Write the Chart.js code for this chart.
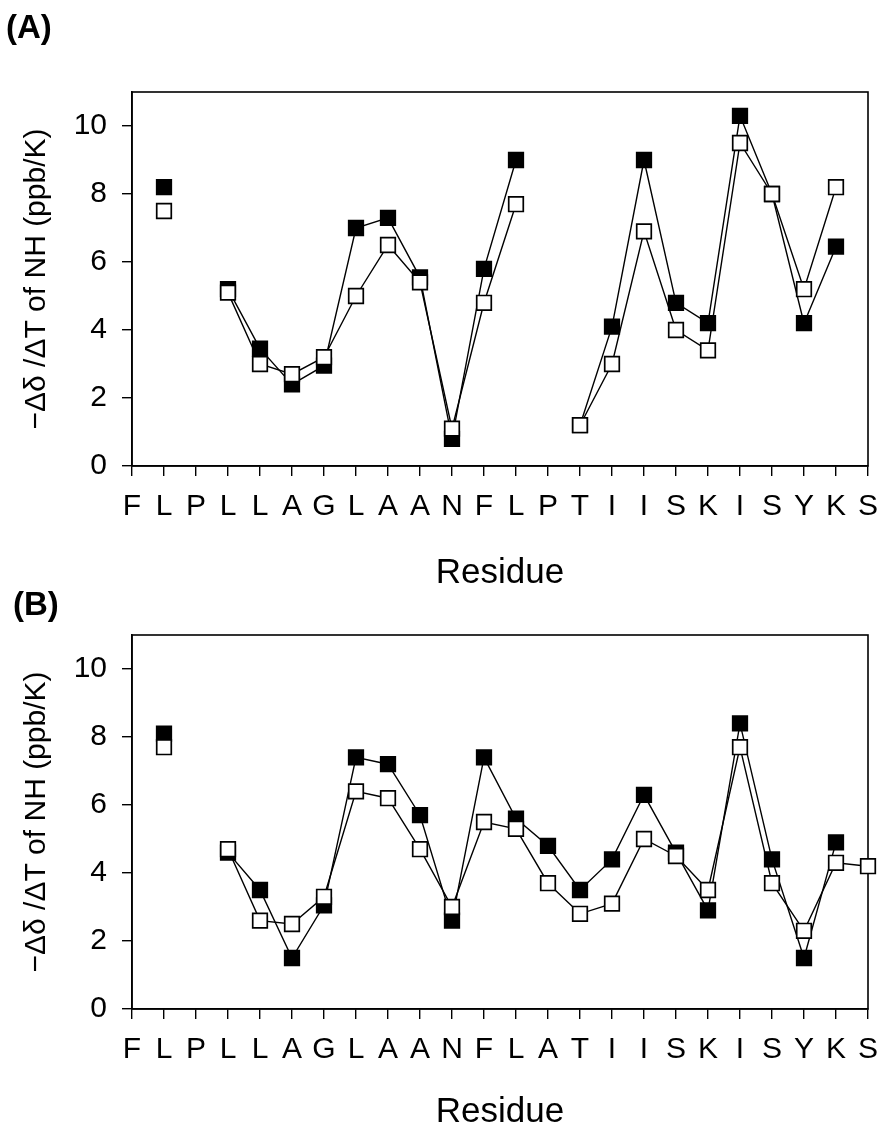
<!DOCTYPE html>
<html>
<head>
<meta charset="utf-8">
<script src="https://cdn.jsdelivr.net/npm/chart.js@4.4.1/dist/chart.umd.min.js"></script>
<style>
  body { margin: 0; background: #fff; }
  #wrap { position: relative; width: 881px; height: 1132px; overflow: hidden; }
  .panel { position: absolute; left: 0; width: 881px; height: 600px; }
  .tag { position: absolute; font: bold 33px Arial, "Liberation Sans", sans-serif; color: #000; }
</style>
</head>
<body>
<div id="wrap">
  <div class="panel" style="top:0"><canvas id="chartA"></canvas></div>
  <div class="panel" style="top:543px"><canvas id="chartB"></canvas></div>
  <div class="tag" style="top:8px; left:6px">(A)</div>
  <div class="tag" style="top:585px; left:13px">(B)</div>
</div>
<script>
// residues along the x axis
const residuesA = ["F","L","P","L","L","A","G","L","A","A","N","F","L","P","T","I","I","S","K","I","S","Y","K","S"];
const residuesB = ["F","L","P","L","L","A","G","L","A","A","N","F","L","A","T","I","I","S","K","I","S","Y","K","S"];

// filled squares / open squares, null = no value
const filledA = [null, 8.2, null, 5.2, 3.45, 2.4, 2.95, 7.0, 7.3, 5.55, 0.8, 5.8, 9.0, null, 1.2, 4.1, 9.0, 4.8, 4.2, 10.3, 8.0, 4.2, 6.45, null];
const openA   = [null, 7.5, null, 5.1, 3.0, 2.7, 3.2, 5.0, 6.5, 5.4, 1.1, 4.8, 7.7, null, 1.2, 3.0, 6.9, 4.0, 3.4, 9.5, 8.0, 5.2, 8.2, null];
const filledB = [null, 8.1, null, 4.6, 3.5, 1.5, 3.05, 7.4, 7.2, 5.7, 2.6, 7.4, 5.6, 4.8, 3.5, 4.4, 6.3, 4.6, 2.9, 8.4, 4.4, 1.5, 4.9, null];
const openB   = [null, 7.7, null, 4.7, 2.6, 2.5, 3.3, 6.4, 6.2, 4.7, 3.0, 5.5, 5.3, 3.7, 2.8, 3.1, 5.0, 4.5, 3.5, 7.7, 3.7, 2.3, 4.3, 4.2];

const yTicks = [0, 2, 4, 6, 8, 10];
const yMax = 11;

const FONT = 'Arial, "Liberation Sans", sans-serif';

// box around the plot area
const frame = {
    id: "frame",
    beforeDatasetsDraw(chart) {
        const a = chart.chartArea;
        const ctx = chart.ctx;
        ctx.save();
        ctx.strokeStyle = "#000";
        ctx.lineWidth = 1.6;
        ctx.strokeRect(a.left, a.top, a.right - a.left, a.bottom - a.top);
        ctx.restore();
    }
};

function series(data, fill) {
    return {
        data: data,
        borderColor: "#000",
        borderWidth: 1.4,
        pointStyle: "rect",
        pointRadius: 10.3,
        pointHoverRadius: 10.3,
        pointBorderWidth: 1.7,
        pointBorderColor: "#000",
        pointBackgroundColor: fill,
        spanGaps: false,
        tension: 0,
        clip: false
    };
}

function makeChart(id, labels, filled, open, titlePad) {
    return new Chart(document.getElementById(id).getContext("2d"), {
        type: "line",
        plugins: [frame],
        data: {
            labels: labels,
            // open squares first so they sit on top
            datasets: [series(open, "#fff"), series(filled, "#000")]
        },
        options: {
            responsive: true,
            maintainAspectRatio: false,
            animation: false,
            layout: { padding: { top: 92, right: 13, left: 0, bottom: 0 } },
            plugins: { legend: { display: false }, tooltip: { enabled: false } },
            scales: {
                x: {
                    type: "category",
                    offset: false,
                    afterFit: (s) => { s.height = 134; s.paddingLeft = 0; s.paddingRight = 0; },
                    grid: { drawOnChartArea: false, tickLength: 10, color: "#000", lineWidth: 1.4 },
                    border: { color: "#000", width: 1.6 },
                    ticks: { autoSkip: false, maxRotation: 0, color: "#000", padding: 13, font: { family: FONT, size: 30 } },
                    title: { display: true, text: "Residue", color: "#000", font: { family: FONT, size: 35 }, padding: { bottom: titlePad } }
                },
                y: {
                    min: 0,
                    max: yMax,
                    afterFit: (s) => { s.width = 132; },
                    afterBuildTicks: (s) => { s.ticks = yTicks.map(v => ({ value: v })); },
                    grid: { drawOnChartArea: false, tickLength: 10, color: "#000", lineWidth: 1.4 },
                    border: { color: "#000", width: 1.6 },
                    ticks: { color: "#000", padding: 15, font: { family: FONT, size: 30 } },
                    title: { display: true, text: "\u2212\u0394\u03b4 /\u0394T of NH (ppb/K)", color: "#000", font: { family: FONT, size: 30 }, padding: { top: 19 } }
                }
            }
        }
    });
}

var chartA = makeChart("chartA", residuesA, filledA, openA, 6);
var chartB = makeChart("chartB", residuesB, filledB, openB, 10);
</script>
</body>
</html>
